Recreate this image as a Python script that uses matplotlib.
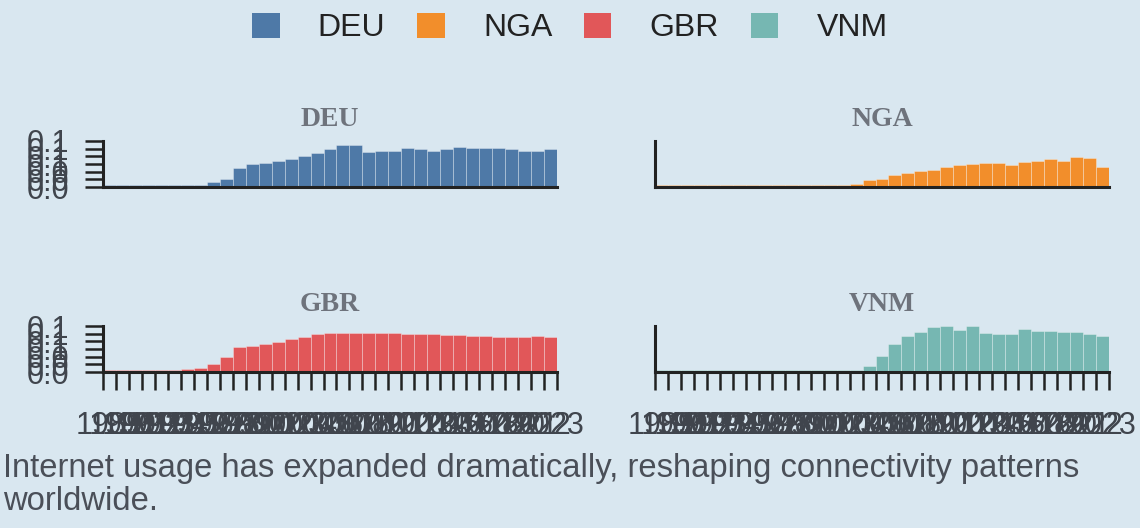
import numpy as np
import matplotlib.pyplot as plt
from matplotlib.patches import Patch
from matplotlib.ticker import FormatStrFormatter

years = [str(y) for y in range(1989, 2024)]

deu = [0.004, 0.004, 0.004, 0.004, 0.004, 0.004, 0.004, 0.006, 0.012, 0.022,
       0.050, 0.059, 0.062, 0.067, 0.074, 0.082, 0.089, 0.100, 0.110, 0.109,
       0.091, 0.094, 0.094, 0.101, 0.100, 0.095, 0.100, 0.105, 0.102, 0.101,
       0.101, 0.099, 0.095, 0.095, 0.098]
nga = [0.004, 0.004, 0.004, 0.004, 0.004, 0.004, 0.004, 0.004, 0.004, 0.004,
       0.004, 0.004, 0.004, 0.004, 0.004, 0.009, 0.017, 0.020, 0.031, 0.037,
       0.043, 0.044, 0.051, 0.057, 0.059, 0.063, 0.063, 0.057, 0.066, 0.069,
       0.074, 0.069, 0.077, 0.075, 0.053]
gbr = [0.005, 0.005, 0.005, 0.005, 0.005, 0.006, 0.009, 0.011, 0.021, 0.040,
       0.064, 0.068, 0.072, 0.079, 0.085, 0.092, 0.098, 0.102, 0.102, 0.103,
       0.102, 0.101, 0.101, 0.100, 0.098, 0.098, 0.097, 0.096, 0.094, 0.095,
       0.092, 0.092, 0.092, 0.094, 0.092]
vnm = [0.004, 0.004, 0.004, 0.004, 0.004, 0.004, 0.004, 0.004, 0.004, 0.004,
       0.004, 0.004, 0.004, 0.004, 0.004, 0.006, 0.015, 0.042, 0.072, 0.093,
       0.104, 0.117, 0.120, 0.110, 0.119, 0.102, 0.100, 0.098, 0.113, 0.108,
       0.108, 0.104, 0.104, 0.098, 0.094]

countries = ['DEU', 'NGA', 'GBR', 'VNM']
series = [deu, nga, gbr, vnm]
colors = ['#4e79a7', '#f28e2b', '#e15759', '#76b7b2']
caption = ('Internet usage has expanded dramatically, reshaping connectivity patterns\n'
           'worldwide.')

bg = '#d9e7f0'
ink = '#222222'
label_col = '#40454d'

plt.rcParams['font.family'] = ['Liberation Sans', 'DejaVu Sans']

fig = plt.figure(figsize=(11.4, 5.28), dpi=100, facecolor=bg)

W, H = 1140, 528
lefts = [103, 655]
tops = [141, 326]
aw, ah = 454, 46

x = np.arange(len(years))
for k, (name, vals, col) in enumerate(zip(countries, series, colors)):
    r, c = divmod(k, 2)
    ax = fig.add_axes([lefts[c] / W, 1 - (tops[r] + ah) / H, aw / W, ah / H])
    ax.set_facecolor(bg)
    ax.bar(x, vals, width=1.0, color=col, edgecolor=(1, 1, 1, 0.35), linewidth=0.6)
    ax.set_xlim(-0.5, len(years) - 0.5)
    ax.set_ylim(0, 0.12)
    for s in ['top', 'right']:
        ax.spines[s].set_visible(False)
    for s in ['left', 'bottom']:
        ax.spines[s].set_color(ink)
        ax.spines[s].set_linewidth(2.2)
    ax.set_title(name, family='Liberation Serif', fontweight='bold', fontsize=20,
                 color='#6e737c', pad=11)

    # y axis only labelled on the left column
    if c == 0:
        ax.set_yticks(np.arange(0, 0.121, 0.02))
        ax.yaxis.set_major_formatter(FormatStrFormatter('%.1f'))
        ax.tick_params(axis='y', length=13, width=1.8, color=ink, pad=11,
                       labelsize=22, labelcolor=label_col)
    else:
        ax.set_yticks([])

    # x axis ticks only on the bottom row
    if r == 1:
        ax.set_xticks(np.arange(-0.5, len(years)), labels=[''] * (len(years) + 1))
        ax.set_xticks(x, labels=years, minor=True)
        ax.tick_params(axis='x', which='major', length=13, width=1.8, color=ink)
        ax.tick_params(axis='x', which='minor', length=0, pad=28,
                       labelsize=22, labelcolor=label_col)
    else:
        ax.set_xticks([])

handles = [Patch(facecolor=col, edgecolor='none') for col in colors]
fig.legend(handles, countries, loc='center', bbox_to_anchor=(0.5, 1 - 28 / H),
           ncol=4, frameon=False, fontsize=23, labelcolor=ink,
           handlelength=0.85, handleheight=0.85, handletextpad=1.2, columnspacing=1.0)

fig.text(3 / W, 1 - 453 / H, caption, ha='left', va='top', fontsize=23.6,
         color='#4a4f58', linespacing=1.1)

fig.savefig('out.png', dpi=100, facecolor=bg)
